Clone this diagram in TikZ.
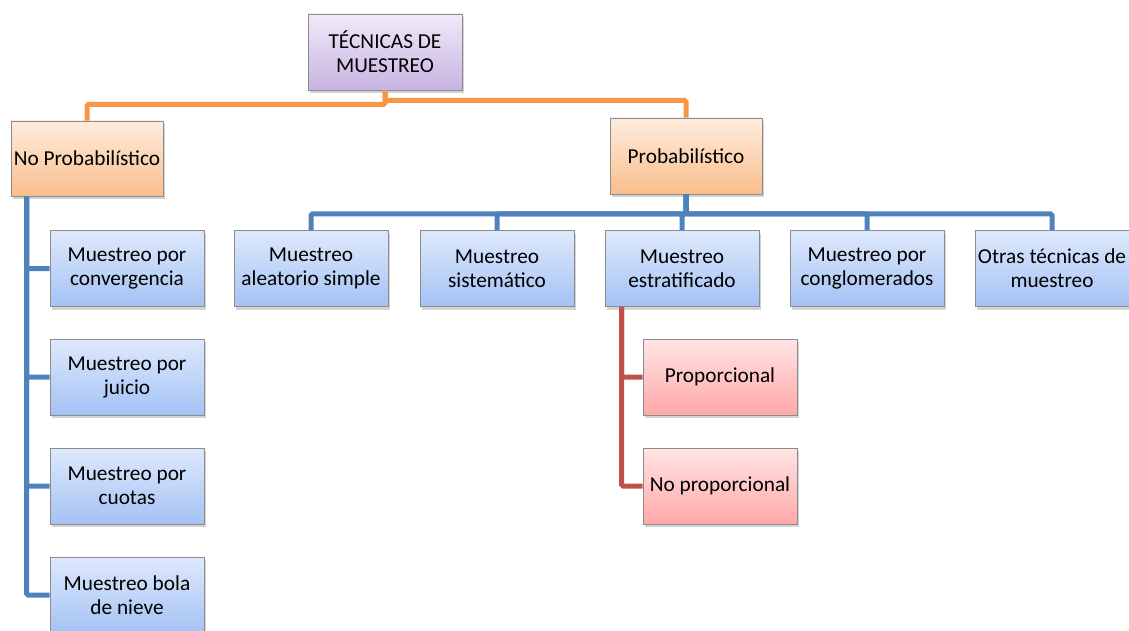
\documentclass[tikz,border=0pt]{standalone}
\usepackage{fontspec}
\setmainfont{Carlito}
\usetikzlibrary{shadows}
\definecolor{lineblue}{RGB}{79,129,189}
\definecolor{lineorange}{RGB}{247,150,70}
\definecolor{linered}{RGB}{192,80,77}
\definecolor{boxedge}{RGB}{140,140,140}
\tikzset{
  box/.style={draw=boxedge, line width=0.8pt, minimum width=154pt, minimum height=76pt,
    align=center, inner sep=2pt, font=\fontsize{21.3}{24}\selectfont,
    drop shadow={shadow xshift=2pt, shadow yshift=-3pt, opacity=0.35}},
  purplebox/.style={box, top color={rgb,255:red,240;green,234;blue,248}, bottom color={rgb,255:red,200;green,180;blue,226}},
  orangebox/.style={box, top color={rgb,255:red,254;green,236;blue,222}, bottom color={rgb,255:red,250;green,190;blue,140}},
  bluebox/.style={box, top color={rgb,255:red,222;green,233;blue,252}, bottom color={rgb,255:red,164;green,194;blue,244}},
  pinkbox/.style={box, top color={rgb,255:red,255;green,228;blue,228}, bottom color={rgb,255:red,255;green,168;blue,168}},
  link/.style={line width=5pt, rounded corners=1.5pt}
}
\begin{document}
\begin{tikzpicture}[x=1pt, y=-1pt]
  \useasboundingbox (0,0) rectangle (1129,631);
  \clip (0,0) rectangle (1129,631);
  % root and first level
  \node[purplebox] (root) at (385,52) {TÉCNICAS DE\\MUESTREO};
  \node[orangebox, minimum width=152pt, minimum height=75pt] (noprob) at (87,158.5) {No Probabilístico};
  \node[orangebox, minimum width=152pt] (prob) at (686,156) {Probabilístico};
  % probabilistic techniques
  \node[bluebox] (p1) at (311,268.5) {Muestreo\\aleatorio simple};
  \node[bluebox] (p2) at (497,268.5) {Muestreo\\sistemático};
  \node[bluebox] (p3) at (682,268.5) {Muestreo\\estratificado};
  \node[bluebox] (p4) at (867,268.5) {Muestreo por\\conglomerados};
  \node[bluebox] (p5) at (1052,268.5) {Otras técnicas de\\muestreo};
  % non probabilistic techniques
  \node[bluebox] (c1) at (127,268.5) {Muestreo por\\convergencia};
  \node[bluebox] (c2) at (127,377) {Muestreo por\\juicio};
  \node[bluebox] (c3) at (127,486) {Muestreo por\\cuotas};
  \node[bluebox] (c4) at (127,595) {Muestreo bola\\de nieve};
  % stratified
  \node[pinkbox] (s1) at (720,377) {Proporcional};
  \node[pinkbox] (s2) at (720,486) {No proporcional};
  % connectors
  \draw[link, lineorange] (root.south) -- ++(0,10) -| (prob.north);
  \draw[link, lineorange] (root.south) -- ++(0,14) -| (noprob.north);
  \foreach \n in {p1,p2,p3,p4,p5}
    \draw[link, lineblue] (prob.south) -- ++(0,19.5) -| (\n.north);
  \foreach \n in {c1,c2,c3,c4}
    \draw[link, lineblue] ([xshift=16pt]noprob.south west) |- (\n.west);
  \foreach \n in {s1,s2}
    \draw[link, linered] ([xshift=17pt]p3.south west) |- (\n.west);
\end{tikzpicture}
\end{document}
